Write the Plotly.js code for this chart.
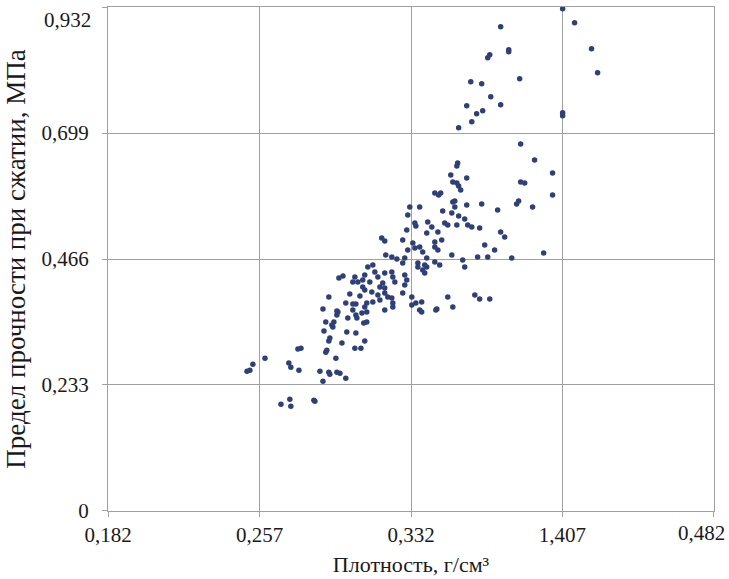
<!DOCTYPE html>
<html>
<head>
<meta charset="utf-8">
<script src="https://cdn.plot.ly/plotly-3.0.1.min.js"></script>
<style>html,body{margin:0;padding:0;background:#fff;}#chart{width:729px;height:579px;}</style>
</head>
<body>
<div id="chart"></div>
<script>
// Density, g/cm3 (x) and compressive strength, MPa (y)
const density = [
  0.2508,0.2522,0.2537,0.2597,0.2715,0.2725,0.2765,0.2760,0.2775,0.2676,0.2720,0.2725,0.2839,0.2844,0.2869,0.2884,0.2913,0.2918,0.2953,0.2968,0.2997,0.2898,0.2903,0.2948,0.2913,0.2978,0.2889,0.2933,0.3002,
  0.2913,0.2884,0.2953,0.2953,0.2898,0.2938,0.3017,0.2997,0.3047,0.3032,0.3067,0.3047,0.3091,0.3086,0.3047,0.3091,0.3042,0.3072,0.2963,0.2983,0.3042,0.3032,0.3057,0.3081,0.2958,0.3032,0.3077,0.3007,0.3052,0.3101,0.3091,0.2918,0.2928,
  0.3195,0.3225,0.3250,0.3279,0.3289,0.3329,0.3339,0.3363,0.3354,0.3388,0.3388,0.3106,0.3131,0.3141,0.3091,0.3156,0.3190,0.3225,0.3230,0.3240,0.3180,0.3190,0.3166,0.3116,0.3081,0.3126,0.3156,0.3190,0.3205,0.3225,0.3166,0.3131,0.3101,0.3230,0.3279,0.3289,0.3299,0.3324,0.3324,0.3373,0.3363,0.3101,0.3190,0.3230,
  0.3314,0.3363,0.3304,0.3339,0.3403,0.3423,0.3299,0.3175,0.3190,0.3279,0.3438,0.3304,
  0.3527,0.3596,0.3670,0.3537,0.3477,0.3522,0.3749,0.3556,0.3586,0.3487,0.3502,0.3547,0.3601,0.3621,0.3660,0.3398,0.3453,0.3438,0.3472,0.3438,0.3453,0.3378,0.3522,0.3685,0.3734,0.3650,0.3700,0.3398,0.3438,0.3462,0.3576,0.3586,0.3398,0.3378,0.3502,0.3636,0.3660,0.3710,0.3527,0.3448,0.3373,
  0.3551,0.3547,0.3517,0.3596,0.3527,0.3547,0.3556,0.3566,0.3467,0.3457,0.3537,0.3764,0.3784,0.3344,0.3354,0.3289,0.3344,0.3443,0.3819,0.3977,
  0.3863,0.3932,0.4021,0.3863,0.3883,0.4021,0.3853,0.3843,0.3922,
  0.4071,0.4130,0.4214,0.4244,0.3764,0.3804,0.3804,0.3710,0.3700,0.3616,0.3670,0.3858,0.3715,0.3596,0.3764,0.3675,0.3645,0.3621,0.3556,0.4071,0.4071
];
const strength = [
  0.2585,0.2604,0.2715,0.2826,0.2734,0.2659,0.2604,0.2993,0.3011,0.1974,0.2067,0.1937,0.2048,0.2030,0.2585,0.2400,0.2567,0.2530,0.2567,0.2548,0.2456,0.2937,0.2974,0.2826,0.3141,0.3104,0.3326,0.3400,0.3308,
  0.3956,0.3734,0.3697,0.3622,0.3493,0.3493,0.4011,0.3845,0.3826,0.3826,0.3974,0.3622,0.4085,0.3474,0.3289,0.3141,0.3011,0.3011,0.4308,0.4345,0.4326,0.4234,0.4234,0.4271,0.3678,0.3715,0.3660,0.3567,0.3567,0.3493,0.3771,0.3197,0.3437,
  0.4734,0.4697,0.4660,0.4586,0.4678,0.4956,0.4863,0.4882,0.4586,0.4549,0.4400,0.4511,0.4549,0.4419,0.4363,0.4326,0.4400,0.4419,0.4326,0.4234,0.4215,0.4123,0.4141,0.4234,0.4141,0.4048,0.3993,0.4030,0.3956,0.3937,0.3900,0.3863,0.3845,0.3845,0.4030,0.4178,0.4271,0.3956,0.3808,0.3863,0.3715,0.3678,0.3715,0.3771,
  0.5623,0.5623,0.5474,0.5326,0.5345,0.5252,0.5197,0.5048,0.4993,0.5011,0.5882,0.4826,
  0.5715,0.5660,0.5678,0.5623,0.5549,0.5512,0.5567,0.5456,0.5400,0.5326,0.5289,0.5289,0.5289,0.5252,0.5234,0.5141,0.5160,0.4974,0.5011,0.4882,0.4826,0.4789,0.4734,0.4919,0.4826,0.4697,0.4697,0.4678,0.4604,0.4549,0.4641,0.4511,0.4511,0.4456,0.3956,0.3993,0.3919,0.3919,0.3771,0.3734,0.3678,
  0.6438,0.6382,0.6215,0.6160,0.6086,0.6067,0.6012,0.5937,0.5882,0.5845,0.5734,0.5160,0.5067,0.5271,0.4511,0.4363,0.3845,0.3715,0.4678,0.4771,
  0.6789,0.6493,0.6252,0.6086,0.6067,0.5845,0.5734,0.5678,0.5623,
  0.929,0.9030,0.8549,0.8104,0.8956,0.8530,0.8493,0.8438,0.8382,0.7938,0.7901,0.7993,0.7660,0.7493,0.7512,0.7401,0.7345,0.7197,0.7086,0.7364,0.7308
];
const xTickVals = [0.182, 0.257, 0.332, 0.407, 0.482];
const xTickText = ['0,182', '0,257', '0,332', '1,407', '0,482'];
const yTickVals = [0, 0.233, 0.466, 0.699, 0.932];
const yTickText = ['0', '0,233', '0,466', '0,699', '0,932'];

const gridColor = '#a0a0a0';
const textColor = '#1a1a1a';
const fontFam = '"Liberation Serif", "Times New Roman", serif';
const tickFont = {family: fontFam, size: 21, color: textColor};

// Edge labels are drawn as annotations, nudged inside the page as in the original
const lastX = xTickText.length - 1, lastY = yTickText.length - 1;
const xShown = xTickText.map((t, i) => i === lastX ? '' : t);
const yShown = yTickText.map((t, i) => i === lastY ? '' : t);

Plotly.newPlot('chart', [{
  type: 'scatter',
  mode: 'markers',
  x: density,
  y: strength,
  cliponaxis: false,
  marker: {color: '#2f4077', size: 5.5, line: {width: 0}}
}], {
  width: 729, height: 579,
  margin: {l: 108, r: 15, t: 7, b: 68},
  paper_bgcolor: '#ffffff',
  plot_bgcolor: '#ffffff',
  showlegend: false,
  font: {family: fontFam, color: textColor, size: 21},
  xaxis: {
    range: [0.18195, 0.48205],
    tickmode: 'array', tickvals: xTickVals, ticktext: xShown,
    showgrid: true, gridcolor: gridColor, gridwidth: 1,
    showline: true, linecolor: gridColor, linewidth: 1, mirror: true,
    ticks: 'outside', ticklen: 5, tickcolor: gridColor,
    zeroline: false,
    tickfont: tickFont,
    title: {text: 'Плотность, г/см³', font: {family: fontFam, size: 22, color: textColor}, standoff: 10}
  },
  yaxis: {
    range: [-0.0002, 0.9322],
    tickmode: 'array', tickvals: yTickVals, ticktext: yShown,
    ticklabelstandoff: 9,
    showgrid: true, gridcolor: gridColor, gridwidth: 1,
    showline: true, linecolor: gridColor, linewidth: 1, mirror: true,
    ticks: 'outside', ticklen: 5, tickcolor: gridColor,
    zeroline: false,
    tickfont: tickFont,
    title: {text: 'Предел прочности при сжатии, МПа', font: {family: fontFam, size: 27, color: textColor}, standoff: 8}
  },
  annotations: [
    {text: xTickText[lastX], xref: 'paper', yref: 'paper', x: 1, y: 0,
     xanchor: 'right', yanchor: 'middle', xshift: 13, yshift: -22,
     showarrow: false, font: tickFont},
    {text: yTickText[lastY], xref: 'paper', yref: 'paper', x: 0, y: 1,
     xanchor: 'right', yanchor: 'middle', xshift: -15, yshift: -13,
     showarrow: false, font: tickFont}
  ]
}, {displayModeBar: false, staticPlot: true});
</script>
</body>
</html>
